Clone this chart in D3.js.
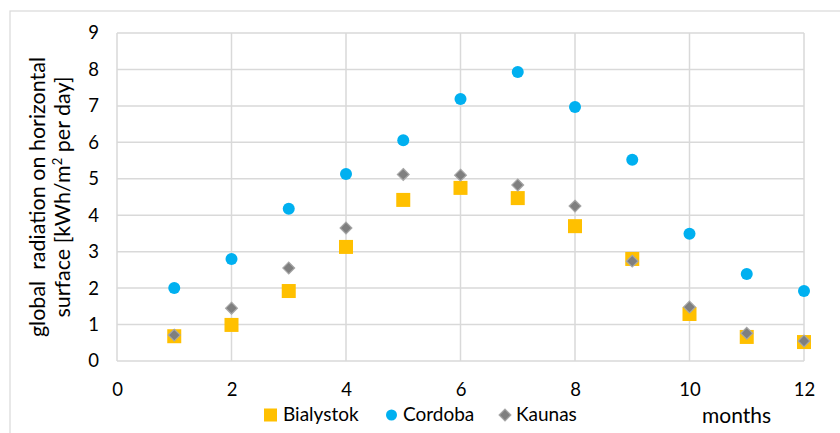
<!DOCTYPE html>
<html>
<head>
<meta charset="utf-8">
<script src="https://cdn.jsdelivr.net/npm/d3@7"></script>
<style>
  body { margin: 0; background: #fff; }
  svg { font-family: Lato, "Open Sans", sans-serif; }
</style>
</head>
<body>
<svg width="840" height="433"></svg>
<script>
const width = 840;
const height = 433;

// monthly global radiation values, kWh/m2 per day
var months = [1, 2, 3, 4, 5, 6, 7, 8, 9, 10, 11, 12];
var bialystok = [0.68, 0.99, 1.92, 3.13, 4.42, 4.75, 4.47, 3.70, 2.80, 1.29, 0.66, 0.52];
var cordoba = [2.00, 2.80, 4.18, 5.13, 6.06, 7.19, 7.93, 6.97, 5.52, 3.49, 2.39, 1.92];
var kaunas = [0.71, 1.45, 2.55, 3.65, 5.12, 5.10, 4.83, 4.25, 2.74, 1.48, 0.76, 0.55];

var xTicks = [0, 2, 4, 6, 8, 10, 12];
var yTicks = [0, 1, 2, 3, 4, 5, 6, 7, 8, 9];

var svg = d3.select("svg");

// chart border
svg.append("rect")
    .attr("x", 10).attr("y", 11)
    .attr("width", 840).attr("height", 440)
    .attr("fill", "#fff")
    .attr("stroke", "#d9d9d9")
    .attr("stroke-width", 1.2);

var x = d3.scaleLinear().domain([0, 12]).range([117, 804]);
var y = d3.scaleLinear().domain([0, 9]).range([361, 33]);

var grid = "#d9d9d9";

// gridlines
svg.append("g")
    .selectAll("line")
    .data(yTicks)
    .join("line")
    .attr("x1", x(0)).attr("x2", x(12))
    .attr("y1", d => y(d)).attr("y2", d => y(d))
    .attr("stroke", grid)
    .attr("stroke-width", 1.5);

svg.append("g")
    .selectAll("line")
    .data(xTicks)
    .join("line")
    .attr("x1", d => x(d)).attr("x2", d => x(d))
    .attr("y1", y(0)).attr("y2", y(9))
    .attr("stroke", grid)
    .attr("stroke-width", 1.5);

// tick labels via axes
var yAxis = svg.append("g")
    .attr("transform", "translate(" + x(0) + ",0)")
    .call(d3.axisLeft(y).tickValues(yTicks).tickSize(0).tickPadding(18));
var xAxis = svg.append("g")
    .attr("transform", "translate(0," + y(0) + ")")
    .call(d3.axisBottom(x).tickValues(xTicks).tickSize(0).tickPadding(21.5));

[yAxis, xAxis].forEach(function (g) {
    g.select(".domain").remove();
    g.attr("font-family", null).attr("font-size", null);
    g.selectAll("text")
        .attr("font-size", 18.5)
        .attr("fill", "#000");
});

// y axis title
var title = svg.append("text")
    .attr("transform", "translate(45,197) rotate(-90)")
    .attr("text-anchor", "middle")
    .attr("font-size", 21.5)
    .attr("fill", "#000")
    .style("white-space", "pre");
title.append("tspan").attr("x", 0).attr("dy", 0).text("global  radiation on horizontal");
var l2 = title.append("tspan").attr("x", 0).attr("dy", 25);
l2.append("tspan").text("surface [kWh/m");
l2.append("tspan").attr("font-size", 13).attr("dy", -8).text("2");
l2.append("tspan").attr("dy", 8).text(" per day]");

// markers
var sq = 14;
svg.append("g")
    .selectAll("rect")
    .data(months)
    .join("rect")
    .attr("x", (d, i) => x(d) - sq / 2)
    .attr("y", (d, i) => y(bialystok[i]) - sq / 2)
    .attr("width", sq).attr("height", sq)
    .attr("fill", "#ffc000");

svg.append("g")
    .selectAll("circle")
    .data(months)
    .join("circle")
    .attr("cx", d => x(d))
    .attr("cy", (d, i) => y(cordoba[i]))
    .attr("r", 6)
    .attr("fill", "#00b0f0");

var diamond = d3.symbol().type(d3.symbolDiamond2).size(88);
svg.append("g")
    .selectAll("path")
    .data(months)
    .join("path")
    .attr("transform", (d, i) => "translate(" + x(d) + "," + y(kaunas[i]) + ")")
    .attr("d", diamond)
    .attr("fill", "#7f7f7f")
    .attr("stroke", "#a6a6a6")
    .attr("stroke-width", 1.2);

// legend
var ly = 415;
var legend = svg.append("g").attr("font-size", 19).attr("fill", "#000");
legend.append("rect").attr("x", 264).attr("y", ly - 6.5).attr("width", 13).attr("height", 13).attr("fill", "#ffc000");
legend.append("text").attr("x", 283).attr("y", ly + 6).text("Bialystok");
legend.append("circle").attr("cx", 391.5).attr("cy", ly).attr("r", 5.5).attr("fill", "#00b0f0");
legend.append("text").attr("x", 403).attr("y", ly + 6).text("Cordoba");
legend.append("path").attr("transform", "translate(505," + ly + ")").attr("d", diamond)
    .attr("fill", "#7f7f7f").attr("stroke", "#a6a6a6").attr("stroke-width", 1.2);
legend.append("text").attr("x", 516).attr("y", ly + 6).text("Kaunas");

// x axis title
svg.append("text")
    .attr("x", 702).attr("y", 423)
    .attr("font-size", 21)
    .text("months");
</script>
</body>
</html>
